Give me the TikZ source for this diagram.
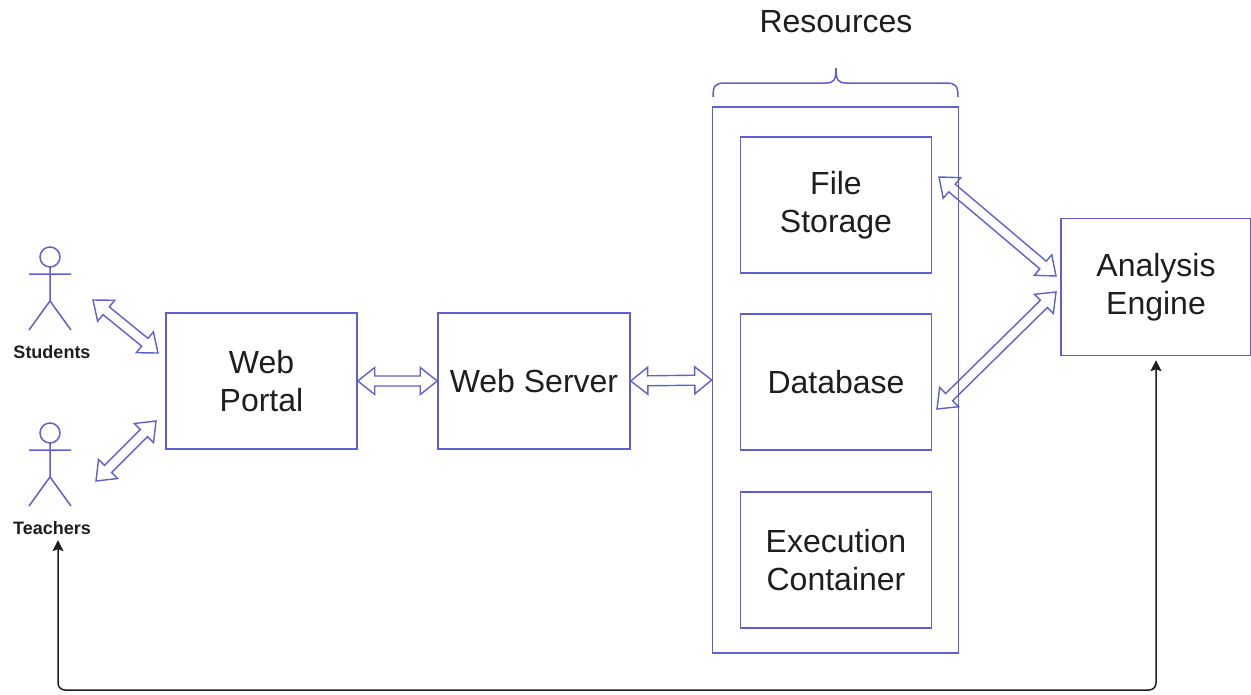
\documentclass[tikz,border=0pt]{standalone}
\usepackage{fontspec}
\setmainfont{Liberation Sans}
\usetikzlibrary{calc,arrows.meta}
\definecolor{boxblue}{RGB}{95,95,205}
\definecolor{ink}{RGB}{30,30,30}
% hollow double arrow between two points
\newcommand\dblarrow[2]{%
  \draw[flow] (#1) -- ($(#1)!17pt!(#2)!13.5pt!90:(#2)$) -- ($(#1)!17pt!(#2)!5pt!90:(#2)$)
    -- ($(#2)!17pt!(#1)!5pt!-90:(#1)$) -- ($(#2)!17pt!(#1)!13.5pt!-90:(#1)$) -- (#2)
    -- ($(#2)!17pt!(#1)!13.5pt!90:(#1)$) -- ($(#2)!17pt!(#1)!5pt!90:(#1)$)
    -- ($(#1)!17pt!(#2)!5pt!-90:(#2)$) -- ($(#1)!17pt!(#2)!13.5pt!-90:(#2)$) -- cycle;}
\begin{document}
\begin{tikzpicture}[x=1pt, y=-1pt,
    block/.style={draw=boxblue, line width=1.5pt, text=ink, align=center,
      font=\fontsize{32}{38}\selectfont, minimum width=191pt, minimum height=136pt},
    flow/.style={draw=boxblue, line width=1.4pt, line join=miter},
    actor/.style={draw=boxblue, line width=1.5pt},
    feedback/.style={draw=ink, line width=1.5pt, rounded corners=7pt,
      {Stealth[length=11pt,width=11pt,inset=2pt]}-{Stealth[length=11pt,width=11pt,inset=2pt]}}]
  \useasboundingbox (0,0) rectangle (1251,694);
  % actors
  \foreach \n/\y/\t in {stu/247/Students, tea/423/Teachers} {
    \draw[actor] (50,\y+10) circle (10pt);
    \draw[actor] (50,\y+20) -- (50,\y+54) (29,\y+27) -- (71,\y+27)
      (29,\y+83) -- (50,\y+54) -- (71,\y+83);
    \node[text=ink, font=\fontsize{18}{21}\selectfont\bfseries] (\n) at (52,\y+105) {\t};
  }
  % boxes
  \node[block] (portal) at (261.5,381) {Web\\Portal};
  \node[block, minimum width=192pt] (server) at (534,381) {Web Server};
  \node[block, minimum width=246pt, minimum height=546pt] (res) at (835.5,380) {};
  \node[block] (files) at (836,205) {File\\Storage};
  \node[block] (db) at (836,382) {Database};
  \node[block] (exec) at (836,560) {Execution\\Container};
  \node[block, minimum width=190pt, minimum height=137pt] (engine) at (1156,287) {Analysis\\Engine};
  % brace
  \draw[boxblue, line width=1.5pt] (713,97) .. controls (713,86) and (715,83) .. (725,83)
    -- (826,83) .. controls (834,83) and (836,80) .. (836,68)
    .. controls (836,80) and (838,83) .. (846,83) -- (946,83)
    .. controls (956,83) and (958,86) .. (958,97);
  \node[text=ink, font=\fontsize{32}{38}\selectfont] (restitle) at (836,22) {Resources};
  % arrow ends
  \coordinate (stu-a) at (93,300);  \coordinate (stu-b) at (158,353);
  \coordinate (tea-a) at (96,481);  \coordinate (tea-b) at (156,421);
  \coordinate (files-a) at (939,177); \coordinate (eng-a) at (1056,276);
  \coordinate (db-a) at (937,409);    \coordinate (eng-b) at (1056,292);
  \coordinate (loop) at (600,690);
  \dblarrow{stu-a}{stu-b}
  \dblarrow{tea-a}{tea-b}
  \dblarrow{portal.east}{server.west}
  \dblarrow{server.east}{res.west}
  \dblarrow{files-a}{eng-a}
  \dblarrow{db-a}{eng-b}
  \draw[feedback, shorten <=2pt, shorten >=4pt] ([xshift=6pt]tea.south) |- (loop) -| (engine.south);
\end{tikzpicture}
\end{document}
